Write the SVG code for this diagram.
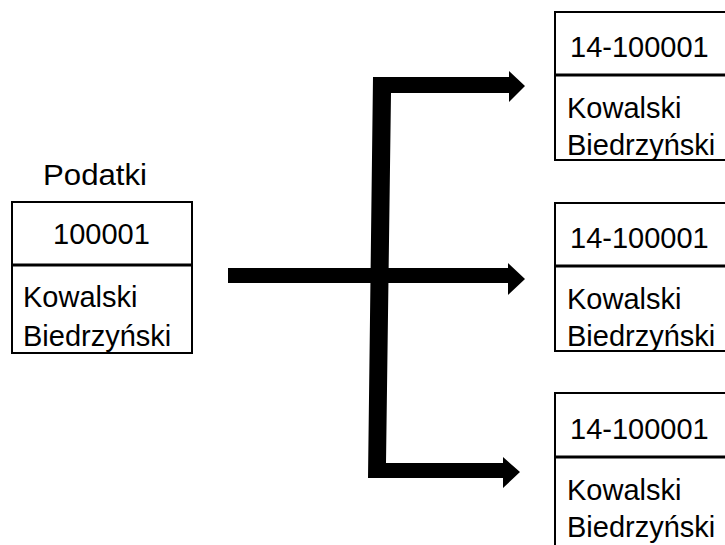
<svg xmlns="http://www.w3.org/2000/svg" width="725" height="545" viewBox="0 0 725 545">
<style>
.box{fill:#fff;stroke:#000;stroke-width:2}
.div{stroke:#000;stroke-width:3}
.t{font-family:"Liberation Sans",Arial,sans-serif;font-size:29px;fill:#000}
.bar{fill:#000}
</style>
<rect width="725" height="545" fill="#fff"/>
<g id="podatki">
<text class="t" x="43" y="185" textLength="104" lengthAdjust="spacingAndGlyphs">Podatki</text>
<rect class="box" x="12" y="202" width="180" height="151"/>
<line class="div" x1="12" y1="265" x2="192" y2="265"/>
<text class="t" x="53" y="244">100001</text>
<text class="t" x="23" y="307">Kowalski</text>
<text class="t" x="23" y="346">Biedrzyński</text>
</g>
<g id="rec1">
<rect class="box" x="555" y="12" width="180" height="148"/>
<line class="div" x1="555" y1="75" x2="725" y2="75"/>
<text class="t" x="570" y="57">14-100001</text>
<text class="t" x="567" y="118">Kowalski</text>
<text class="t" x="567" y="155">Biedrzyński</text>
</g>
<g id="rec2">
<rect class="box" x="555" y="203" width="180" height="148"/>
<line class="div" x1="555" y1="266" x2="725" y2="266"/>
<text class="t" x="570" y="248">14-100001</text>
<text class="t" x="567" y="309">Kowalski</text>
<text class="t" x="567" y="346">Biedrzyński</text>
</g>
<g id="rec3">
<rect class="box" x="555" y="393" width="180" height="160"/>
<line class="div" x1="555" y1="457" x2="725" y2="457"/>
<text class="t" x="570" y="439">14-100001</text>
<text class="t" x="567" y="500">Kowalski</text>
<text class="t" x="567" y="537">Biedrzyński</text>
</g>
<g id="connectors">
<polygon class="bar" points="373,77 509,77 509,71 525,86 509,102 509,93 391,93 386,463 503,463 503,457 520,472 503,488 503,478 368,478"/>
<polygon class="bar" points="228,268 508,268 508,263 525,279 508,295 508,283 228,283"/>
</g>
</svg>
